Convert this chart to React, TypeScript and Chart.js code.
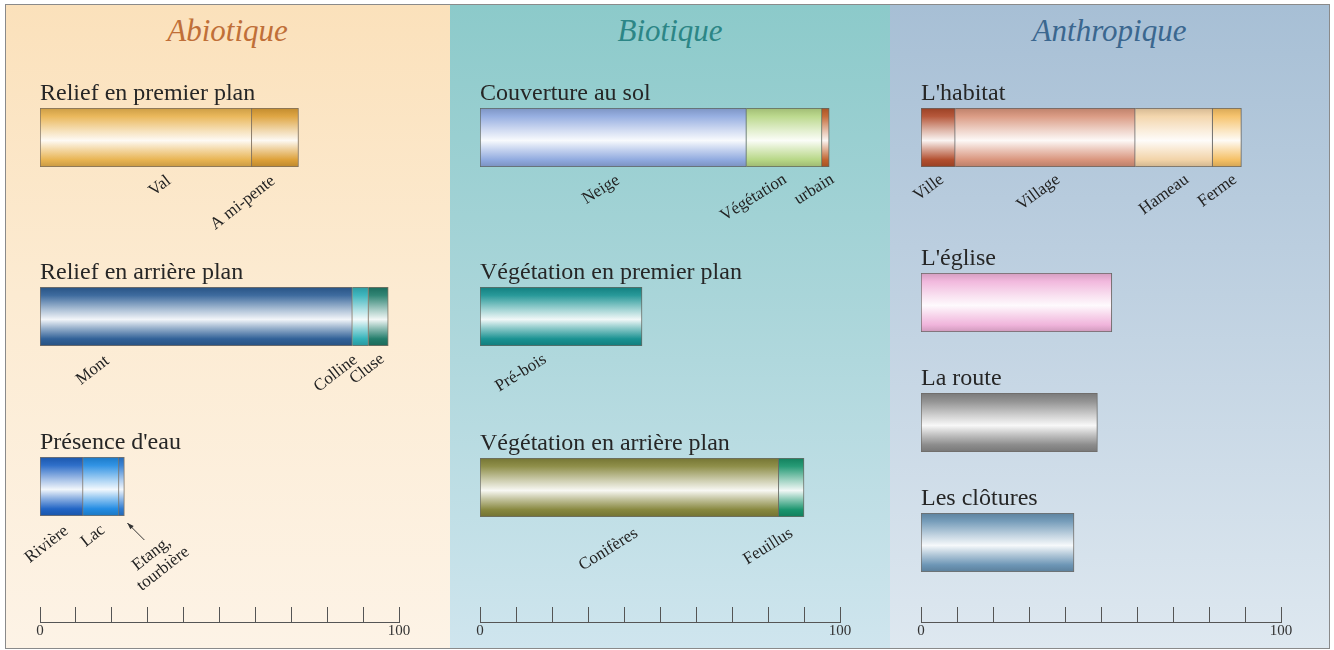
import React, { useEffect, useRef } from 'react';
import { Chart, registerables } from 'chart.js';

Chart.register(...registerables);

// ---------------- DATA ----------------
const PANEL_TITLES = ['Abiotique', 'Biotique', 'Anthropique'];

const RELIEF_PREMIER_LABELS = ['Val', 'A mi-pente'];
const RELIEF_PREMIER_VALUES = [59, 13];
const RELIEF_ARRIERE_LABELS = ['Mont', 'Colline', 'Cluse'];
const RELIEF_ARRIERE_VALUES = [87, 4.5, 5.5];
const EAU_LABELS = ['Rivière', 'Lac', 'Etang,\ntourbière'];
const EAU_VALUES = [12, 10, 1.5];

const COUVERTURE_LABELS = ['Neige', 'Végétation', 'urbain'];
const COUVERTURE_VALUES = [74, 21, 2];
const VEG_PREMIER_LABELS = ['Pré-bois'];
const VEG_PREMIER_VALUES = [45];
const VEG_ARRIERE_LABELS = ['Conifères', 'Feuillus'];
const VEG_ARRIERE_VALUES = [83, 7];

const HABITAT_LABELS = ['Ville', 'Village', 'Hameau', 'Ferme'];
const HABITAT_VALUES = [9.5, 50, 21.5, 8];
const EGLISE_VALUES = [53];
const ROUTE_VALUES = [49];
const CLOTURES_VALUES = [42.5];

const AXIS_MIN = 0;
const AXIS_MAX = 100;
const AXIS_STEP = 10;
const AXIS_LABELED_TICKS = [0, 100];

// ---------------- STYLE / LAYOUT ----------------
const SERIF = '"Liberation Serif", "Times New Roman", serif';
const BAR_H = 59;
const ROW_PAD_TOP = 40;
const ROW_PAD_BOTTOM = 100;
const PANEL_TOP = 5;
const PANEL_H = 643;
const AXIS_CANVAS_TOP = 590;

// label anchor shifts (px) relative to segment centre / bar bottom
const LABEL_SHIFT: Record<string, [number, number]> = {
  'Val': [23, 12],
  'A mi-pente': [-2, 12],
  'Mont': [-89, 13],
  'Colline': [-5, 12],
  'Cluse': [4, 11],
  'Rivière': [5, 13],
  'Lac': [2, 12],
  'Etang,\ntourbière': [54, 19],
  'Neige': [5, 12],
  'Végétation': [1, 11],
  'urbain': [7, 11],
  'Pré-bois': [-16, 12],
  'Conifères': [7, 15],
  'Feuillus': [0, 15],
  'Ville': [4, 11],
  'Village': [13, 11],
  'Hameau': [13, 11],
  'Ferme': [8, 11],
};
const ARROW_LABELS = new Set(['Etang,\ntourbière']);

type Row = { title: string; labels: string[]; values: number[]; colors: string[]; barTop: number };
type Panel = {
  title: string; left: number; width: number; padL: number; padR: number;
  bg: string; titleColor: string; angle: number; rows: Row[];
};

const PANELS: Panel[] = [
  {
    title: PANEL_TITLES[0], left: 5, width: 445, padL: 35, padR: 51,
    bg: 'linear-gradient(to bottom, #fbe1bb 0%, #fcebd2 45%, #fdf3e6 100%)',
    titleColor: '#c06f38', angle: 38,
    rows: [
      { title: 'Relief en premier plan', labels: RELIEF_PREMIER_LABELS, values: RELIEF_PREMIER_VALUES, colors: ['#e8b24e', '#dc9e34'], barTop: 108 },
      { title: 'Relief en arrière plan', labels: RELIEF_ARRIERE_LABELS, values: RELIEF_ARRIERE_VALUES, colors: ['#2d5e96', '#2fb0b8', '#1f7a68'], barTop: 287 },
      { title: "Présence d'eau", labels: EAU_LABELS, values: EAU_VALUES, colors: ['#1d62c4', '#1f8ae2', '#2a78d0'], barTop: 457 },
    ],
  },
  {
    title: PANEL_TITLES[1], left: 450, width: 440, padL: 30, padR: 50,
    bg: 'linear-gradient(to bottom, #8ccaca 0%, #a9d5d9 45%, #cfe5ee 100%)',
    titleColor: '#2c8686', angle: 32,
    rows: [
      { title: 'Couverture au sol', labels: COUVERTURE_LABELS, values: COUVERTURE_VALUES, colors: ['#8ea8de', '#b6d684', '#c0602a'], barTop: 108 },
      { title: 'Végétation en premier plan', labels: VEG_PREMIER_LABELS, values: VEG_PREMIER_VALUES, colors: ['#159090'], barTop: 287 },
      { title: 'Végétation en arrière plan', labels: VEG_ARRIERE_LABELS, values: VEG_ARRIERE_VALUES, colors: ['#85853a', '#14926a'], barTop: 458 },
    ],
  },
  {
    title: PANEL_TITLES[2], left: 890, width: 439, padL: 31, padR: 48,
    bg: 'linear-gradient(to bottom, #a7bfd5 0%, #bfd1e1 45%, #dee8f0 100%)',
    titleColor: '#3b678f', angle: 36,
    rows: [
      { title: "L'habitat", labels: HABITAT_LABELS, values: HABITAT_VALUES, colors: ['#b04a2a', '#d8937a', '#f2d2a6', '#f5bf62'], barTop: 108 },
      { title: "L'église", labels: [], values: EGLISE_VALUES, colors: ['#f0b2da'], barTop: 273 },
      { title: 'La route', labels: [], values: ROUTE_VALUES, colors: ['#8a8a8a'], barTop: 393 },
      { title: 'Les clôtures', labels: [], values: CLOTURES_VALUES, colors: ['#6a94b4'], barTop: 513 },
    ],
  },
];

// ---------------- HELPERS ----------------
function hexToRgb(h: string): number[] {
  const n = parseInt(h.slice(1), 16);
  return [(n >> 16) & 255, (n >> 8) & 255, n & 255];
}
function mix(c: number[], t: number[], a: number): string {
  const r = c.map((v, i) => Math.round(v + (t[i] - v) * a));
  return `rgb(${r[0]},${r[1]},${r[2]})`;
}
function cylinder(ctx: CanvasRenderingContext2D, top: number, bottom: number, hex: string) {
  const base = hexToRgb(hex);
  const W = [255, 255, 255];
  const K = [0, 0, 0];
  const g = ctx.createLinearGradient(0, top, 0, bottom);
  g.addColorStop(0, mix(base, K, 0.12));
  g.addColorStop(0.14, mix(base, W, 0.08));
  g.addColorStop(0.38, mix(base, W, 0.6));
  g.addColorStop(0.55, mix(base, W, 0.94));
  g.addColorStop(0.7, mix(base, W, 0.5));
  g.addColorStop(0.88, mix(base, W, 0.02));
  g.addColorStop(1, mix(base, K, 0.14));
  return g;
}

function rowLabelPlugin(angle: number) {
  return {
    id: 'rowLabels',
    afterDatasetsDraw(chart: any) {
      const { ctx, chartArea } = chart;
      ctx.save();
      // category label above the bar
      ctx.font = `24px ${SERIF}`;
      ctx.fillStyle = '#262626';
      ctx.textAlign = 'left';
      ctx.textBaseline = 'alphabetic';
      ctx.fillText(String(chart.data.labels[0]), chartArea.left, chartArea.top - 8);
      // segment labels
      const segLabels: string[] = chart.$segLabels || [];
      segLabels.forEach((label, i) => {
        const el = chart.getDatasetMeta(i).data[0];
        if (!el) return;
        const p = el.getProps(['x', 'base', 'y', 'height'], true);
        const cx = (p.x + p.base) / 2;
        const bottom = p.y + p.height / 2;
        const [dx, dy] = LABEL_SHIFT[label] || [0, 12];
        ctx.save();
        ctx.translate(cx + dx, bottom + dy);
        ctx.rotate((-angle * Math.PI) / 180);
        ctx.font = `17px ${SERIF}`;
        ctx.fillStyle = '#222';
        ctx.textAlign = 'center';
        ctx.textBaseline = 'middle';
        const lines = label.split('\n');
        const W = Math.max(...lines.map((l) => ctx.measureText(l).width));
        lines.forEach((l, k) => ctx.fillText(l, -W / 2, k * 19));
        ctx.restore();
        if (ARROW_LABELS.has(label)) {
          const end = Math.max(p.x, p.base);
          const x1 = end + 20, y1 = bottom + 24;
          const x2 = end + 3, y2 = bottom + 7;
          ctx.strokeStyle = '#333';
          ctx.fillStyle = '#333';
          ctx.lineWidth = 1;
          ctx.beginPath();
          ctx.moveTo(x1, y1);
          ctx.lineTo(x2, y2);
          ctx.stroke();
          const a = Math.atan2(y2 - y1, x2 - x1);
          ctx.beginPath();
          ctx.moveTo(x2, y2);
          ctx.lineTo(x2 - 7 * Math.cos(a - 0.35), y2 - 7 * Math.sin(a - 0.35));
          ctx.lineTo(x2 - 7 * Math.cos(a + 0.35), y2 - 7 * Math.sin(a + 0.35));
          ctx.closePath();
          ctx.fill();
        }
      });
      ctx.restore();
    },
  };
}

function RowChart({ panel, row }: { panel: Panel; row: Row }) {
  const ref = useRef<HTMLCanvasElement>(null);
  const h = ROW_PAD_TOP + BAR_H + ROW_PAD_BOTTOM;
  useEffect(() => {
    const canvas = ref.current!;
    const chart: any = new Chart(canvas, {
      type: 'bar',
      data: {
        labels: [row.title],
        datasets: row.values.map((v, i) => ({
          label: row.labels[i] ?? row.title,
          data: [v],
          backgroundColor: (c: any) => {
            const ca = c.chart.chartArea;
            if (!ca) return row.colors[i];
            return cylinder(c.chart.ctx, ca.top, ca.bottom, row.colors[i]);
          },
          borderColor: 'rgba(70,60,50,0.7)',
          borderWidth: 1,
          borderSkipped: i === 0 ? false : 'start',
          barPercentage: 1,
          categoryPercentage: 1,
        })),
      },
      options: {
        indexAxis: 'y',
        responsive: false,
        animation: false,
        events: [],
        layout: { padding: { top: ROW_PAD_TOP, bottom: ROW_PAD_BOTTOM, left: panel.padL, right: panel.padR } },
        scales: {
          x: { type: 'linear', stacked: true, min: AXIS_MIN, max: AXIS_MAX, display: false },
          y: { stacked: true, display: false },
        },
        plugins: { legend: { display: false }, tooltip: { enabled: false } },
      } as any,
      plugins: [rowLabelPlugin(panel.angle)],
    });
    chart.$segLabels = row.labels;
    chart.draw();
    return () => chart.destroy();
  }, []);
  return (
    <canvas
      ref={ref}
      width={panel.width}
      height={h}
      style={{ position: 'absolute', left: 0, top: row.barTop - ROW_PAD_TOP - PANEL_TOP, width: panel.width, height: h }}
    />
  );
}

function AxisChart({ panel }: { panel: Panel }) {
  const ref = useRef<HTMLCanvasElement>(null);
  const h = 48;
  useEffect(() => {
    const chart = new Chart(ref.current!, {
      type: 'bar',
      data: { labels: [''], datasets: [{ data: [] }] },
      options: {
        indexAxis: 'y',
        responsive: false,
        animation: false,
        events: [],
        layout: { padding: { top: 17, bottom: 0, left: panel.padL, right: panel.padR } },
        scales: {
          x: {
            type: 'linear', min: AXIS_MIN, max: AXIS_MAX, position: 'bottom',
            ticks: {
              stepSize: AXIS_STEP, autoSkip: false, maxRotation: 0, padding: 0, color: '#333',
              font: { family: 'Liberation Serif', size: 15 },
              callback: (v: any) => (AXIS_LABELED_TICKS.includes(Number(v)) ? String(v) : ''),
            },
            grid: { display: true, drawOnChartArea: true, drawTicks: false, color: '#555', lineWidth: 1 },
            border: { display: true, color: '#555', width: 1 },
          },
          y: { display: false },
        },
        plugins: { legend: { display: false }, tooltip: { enabled: false } },
      } as any,
    });
    return () => chart.destroy();
  }, []);
  return (
    <canvas
      ref={ref}
      width={panel.width}
      height={h}
      style={{ position: 'absolute', left: 0, top: AXIS_CANVAS_TOP - PANEL_TOP, width: panel.width, height: h }}
    />
  );
}

export default function App() {
  return (
    <div style={{ position: 'absolute', left: 0, top: 0, width: 1334, height: 650, background: '#fff', overflow: 'hidden' }}>
      {PANELS.map((p) => (
        <div
          key={p.title}
          style={{ position: 'absolute', left: p.left, top: PANEL_TOP, width: p.width, height: PANEL_H, background: p.bg }}
        >
          <div
            style={{
              position: 'absolute', left: 0, top: 9, width: '100%', textAlign: 'center',
              font: `italic 31px ${SERIF}`, lineHeight: '34px', color: p.titleColor,
            }}
          >
            {p.title}
          </div>
          {p.rows.map((r) => (
            <RowChart key={r.title} panel={p} row={r} />
          ))}
          <AxisChart panel={p} />
        </div>
      ))}
      <div
        style={{
          position: 'absolute', left: 5, top: 4, width: 1325, height: 645,
          border: '1px solid #8a8a8a', boxSizing: 'border-box', pointerEvents: 'none',
        }}
      />
    </div>
  );
}
